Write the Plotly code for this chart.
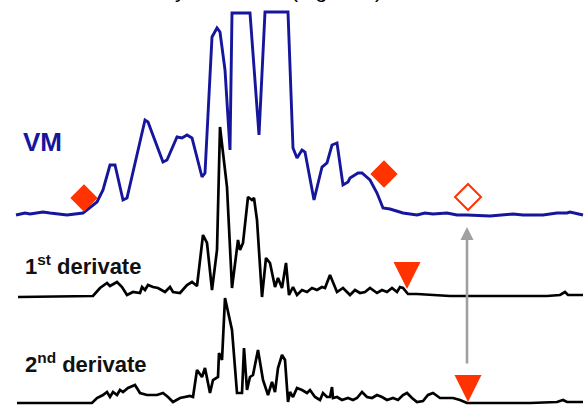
import plotly.graph_objects as go

# ---- data (amplitudes, x in picture units) ----
vm_x = [16, 25, 30, 43, 50, 67, 83, 97, 103, 110, 115, 123, 127, 145, 148, 163, 167, 177, 182, 187, 192,
        202, 205, 212, 217, 220, 225, 230, 232, 250, 259, 265, 288, 293, 297, 302, 305, 314, 322, 327,
        332, 337, 343, 348, 350, 358, 362, 370, 377, 383, 390, 403, 417, 425, 433, 447, 457, 467, 490,
        513, 523, 543, 557, 567, 570, 583]
vm_y = [0, 2, 1, 3, 2, 0, 2, 13, 25, 50, 50, 15, 17, 95, 93, 53, 55, 78, 77, 80, 77,
        38, 42, 178, 187, 183, 145, 65, 202, 202, 80, 203, 203, 67, 57, 65, 63, 15, 48, 52,
        70, 72, 30, 33, 37, 42, 42, 35, 22, 7, 6, 2, 0, 2, 1, 2, 0, 0, -1,
        1, 0, 0, 2, 2, 3, 0]

d1_x = [18, 93, 100, 107, 110, 117, 122, 127, 133, 140, 142, 145, 148, 153, 158, 165, 170, 173, 180, 187,
        192, 197, 203, 207, 212, 217, 220, 227, 232, 238, 240, 243, 248, 252, 254, 257, 262, 266, 270,
        275, 278, 282, 286, 289, 293, 297, 302, 307, 312, 317, 322, 325, 330, 333, 337, 343, 350, 355,
        360, 365, 370, 377, 382, 387, 392, 397, 400, 403, 408, 417, 430, 450, 490, 547, 560, 565, 568, 583]
d1_y = [-1, 0, 8, 13, 10, 14, 9, 1, 4, 3, 9, 6, 11, 9, 8, 4, 9, 4, 3, 11,
        14, 10, 61, 53, 6, 46, 169, 109, 8, 56, 46, 53, 99, 96, 98, 76, -1, 38, 33,
        9, 18, 8, 33, 1, 9, 1, 6, 4, 8, 6, 9, 8, 21, 14, 4, 8, 1, 6,
        3, 4, 8, 3, 6, 4, 8, 4, 9, 8, 2, 2, 1, 0, 0, 0, 1, 4, 1, 1]

d2_x = [17, 92, 97, 103, 107, 110, 113, 117, 120, 123, 128, 135, 140, 147, 157, 163, 168, 173, 180, 190,
        193, 197, 202, 205, 210, 213, 218, 219, 222, 225, 232, 237, 242, 244, 247, 250, 253, 258, 263,
        268, 272, 275, 278, 282, 285, 288, 290, 293, 297, 302, 307, 310, 315, 320, 323, 327, 330, 332,
        333, 337, 342, 348, 353, 357, 362, 367, 372, 377, 382, 387, 393, 398, 403, 407, 412, 417, 423,
        428, 433, 440, 447, 453, 460, 467, 490, 530, 557, 563, 567, 583]
d2_y = [0, 0, 5, 8, 11, 6, 11, 8, 13, 11, 15, 18, 10, 8, 8, 10, 6, 1, 5, 7,
        6, 33, 26, 35, 10, 23, 26, 50, 43, 105, 73, 10, 10, 55, 13, 26, 28, 53, 23,
        8, 21, 11, 35, 48, 43, 1, 11, 6, 15, 13, 10, 13, 6, 3, 10, 6, 6, 16,
        5, 6, 3, 5, 3, 5, 11, 6, 5, 8, 6, 3, 5, 3, 8, 10, 5, 1, 2,
        8, 10, 5, 5, 5, 3, 0, 0, 0, 1, 3, 1, 1]

# marker points
vm_onset_x = [84, 384]
vm_onset_y = [17, 41]
vm_end_x = [468]
vm_end_y = [18]
d1_end_x = [407]
d1_end_y = [7]
d2_end_x = [468]
d2_end_y = [1]

labels = ["VM", "1<sup>st</sup> derivate", "2<sup>nd</sup> derivate"]

# ---- layout constants (vertical offsets of the three stacked traces) ----
OFF_VM, OFF_D1, OFF_D2 = 192, 111, 4
BLUE = "#16169c"
RED = "#ff3300"
FONT = "Arial, Liberation Sans, sans-serif"

def shift(vals, off):
    return [v + off for v in vals]

fig = go.Figure()
fig.add_trace(go.Scatter(x=vm_x, y=shift(vm_y, OFF_VM), mode="lines",
                         line=dict(color=BLUE, width=2.9)))
fig.add_trace(go.Scatter(x=d1_x, y=shift(d1_y, OFF_D1), mode="lines",
                         line=dict(color="black", width=2.7)))
fig.add_trace(go.Scatter(x=d2_x, y=shift(d2_y, OFF_D2), mode="lines",
                         line=dict(color="black", width=2.7)))

fig.add_trace(go.Scatter(x=vm_onset_x, y=shift(vm_onset_y, OFF_VM), mode="markers",
                         marker=dict(symbol="diamond", size=21, color=RED, line=dict(width=0)),
                         cliponaxis=False))
fig.add_trace(go.Scatter(x=vm_end_x, y=shift(vm_end_y, OFF_VM), mode="markers",
                         marker=dict(symbol="diamond", size=20, color="white",
                                     line=dict(width=2, color=RED)),
                         cliponaxis=False))
fig.add_trace(go.Scatter(x=d1_end_x, y=shift(d1_end_y, OFF_D1), mode="markers",
                         marker=dict(symbol="arrow-down", size=27, color=RED, line=dict(width=0)),
                         cliponaxis=False))
fig.add_trace(go.Scatter(x=d2_end_x, y=shift(d2_end_y, OFF_D2), mode="markers",
                         marker=dict(symbol="arrow-down", size=27, color=RED, line=dict(width=0)),
                         cliponaxis=False))

annotations = [
    dict(x=42, y=265, xref="x", yref="y", text="<b>" + labels[0] + "</b>", showarrow=False,
         font=dict(family=FONT, size=26, color=BLUE), xanchor="center", yanchor="middle"),
    dict(x=23, y=142, xref="x", yref="y", text="<b>" + labels[1] + "</b>", showarrow=False,
         font=dict(family=FONT, size=22, color="#111111"), xanchor="left", yanchor="middle"),
    dict(x=23, y=44, xref="x", yref="y", text="<b>" + labels[2] + "</b>", showarrow=False,
         font=dict(family=FONT, size=22, color="#111111"), xanchor="left", yanchor="middle"),
    # gray arrow from the 2nd-derivative endpoint up to the VM endpoint
    dict(x=467, y=180, xref="x", yref="y", ax=467, ay=42, axref="x", ayref="y", text="",
         showarrow=True, arrowhead=2, arrowsize=1, arrowwidth=2.6, arrowcolor="#a0a0a0"),
    # caption line cut off at the top edge
    dict(x=188, y=1, xref="x", yref="paper", text="measured by", showarrow=False,
         font=dict(family=FONT, size=21, color="black"), xanchor="right", yanchor="bottom", yshift=-4),
    dict(x=289, y=1, xref="x", yref="paper", text="(Figure 1)", showarrow=False,
         font=dict(family=FONT, size=21, color="black"), xanchor="left", yanchor="bottom", yshift=-4),
]

fig.update_layout(
    width=587, height=407,
    margin=dict(l=0, r=0, t=0, b=0),
    paper_bgcolor="white", plot_bgcolor="white",
    showlegend=False,
    xaxis=dict(range=[0, 587], visible=False, fixedrange=True),
    yaxis=dict(range=[0, 407], visible=False, fixedrange=True),
    annotations=annotations,
)

fig.write_html("out.html",
               config={"displayModeBar": False},
               post_script="document.body.style.margin='0';document.body.style.overflow='hidden';")
